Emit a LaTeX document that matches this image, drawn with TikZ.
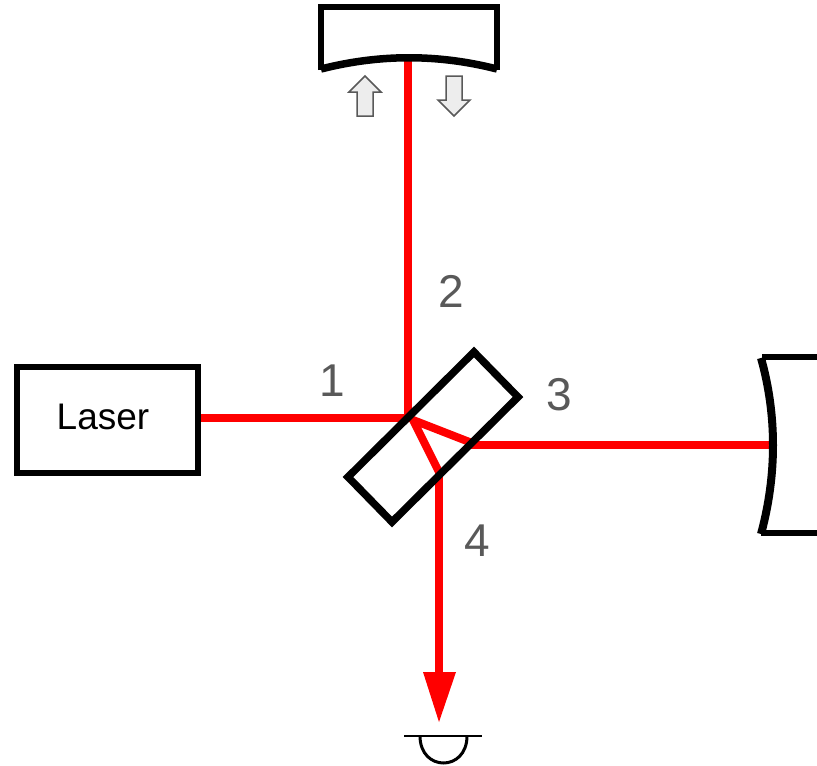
\documentclass[tikz,border=0pt]{standalone}
\usepackage{fontspec}
\setmainfont{Liberation Sans}
\usetikzlibrary{arrows.meta}
\definecolor{beamred}{RGB}{255,0,0}
\definecolor{labelgray}{RGB}{89,89,89}
\tikzset{
  optic/.style={draw=black,line width=6.5pt,line join=miter},
  beam/.style={draw=beamred,line width=8pt},
  movearrow/.style={draw=black!65,fill=black!7,line width=1.5pt,line join=miter},
  numlabel/.style={text=labelgray,font=\fontsize{46}{46}\selectfont,inner sep=0pt},
}
\begin{document}
\begin{tikzpicture}[x=1pt,y=-1pt]
\useasboundingbox (0,0) rectangle (817,766);
% named points
\node[draw=black,line width=5.5pt,minimum width=181pt,minimum height=106pt,inner sep=0pt] (laser) at (107.5,420) {};
\node[inner sep=0pt,font=\fontsize{37}{37}\selectfont] (lasertext) at (103,417) {Laser};
\coordinate (hit) at (408,418);
\coordinate (inner) at (413,420);
\coordinate (topm) at (408,60);
\coordinate (s3) at (472,443);
\coordinate (s4) at (441,476);
\coordinate (rightm) at (771,445);
\coordinate (tip) at (439,722);
\coordinate (base) at (439,672);
% beams
\draw[beam] (laser.east |- hit) -- (hit);
\draw[beam] (topm) -- (408,422);
\draw[beam,line join=round] (s3) -- (inner) -- (s4);
\draw[beam] (469,445) -- (rightm);
\draw[beam] (439,472) -- (base);
\fill[beamred] (423,672) -- (456,672) -- (tip) -- cycle;
% beamsplitter
\draw[optic,line width=7.5pt] (474,352) -- (518,397) -- (392,522) -- (348,477) -- cycle;
% top mirror
\draw[optic,line cap=butt] (321,70) -- (321,7) -- (497,7) -- (497,70);
\draw[optic,line width=7.5pt] (321,69) .. controls (380,54) and (438,54) .. (497,69);
% right mirror
\draw[optic] (817,357) -- (762,357);
\draw[optic] (817,533) -- (761,533);
\draw[optic,line width=8pt] (761,358) .. controls (777,415) and (777,475) .. (761,534);
% move arrows
\draw[movearrow] (365,76) -- (381,92) -- (373,92) -- (373,116) -- (357,116) -- (357,92) -- (349,92) -- cycle;
\draw[movearrow] (454,116) -- (470,100) -- (462,100) -- (462,76) -- (446,76) -- (446,100) -- (438,100) -- cycle;
% detector
\draw[draw=black,line width=2.5pt] (404,736) -- (482,736);
\draw[draw=black,line width=3pt] (420,736) .. controls (420,772) and (467,772) .. (467,736);
% labels
\node[numlabel] (n1) at (332,381) {1};
\node[numlabel] (n2) at (451,291) {2};
\node[numlabel] (n3) at (559,395) {3};
\node[numlabel] (n4) at (477,541) {4};
\end{tikzpicture}
\end{document}
